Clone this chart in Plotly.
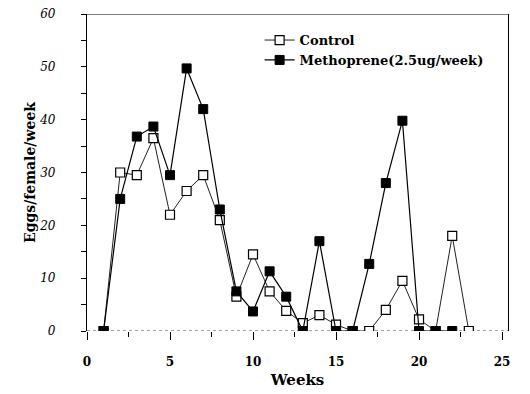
import plotly.graph_objects as go

weeks_control = [1, 2, 3, 4, 5, 6, 7, 8, 9, 10, 11, 12, 13, 14, 15, 16, 17, 18, 19, 20, 21, 22, 23]
control = [0, 30, 29.5, 36.5, 22, 26.5, 29.5, 21, 6.5, 14.5, 7.5, 3.8, 1.5, 3, 1.2, 0, 0, 4, 9.5, 2.2, 0, 18, 0]

weeks_metho = [1, 2, 3, 4, 5, 6, 7, 8, 9, 10, 11, 12, 13, 14, 15, 16, 17, 18, 19, 20, 21, 22]
methoprene = [0, 25, 36.8, 38.7, 29.5, 49.7, 42, 23, 7.5, 3.7, 11.3, 6.5, 0, 17, 0, 0, 12.7, 28, 39.8, 0, 0, 0]

x_ticks = [0, 5, 10, 15, 20, 25]
y_ticks = [0, 10, 20, 30, 40, 50, 60]

SERIF = "DejaVu Serif"

fig = go.Figure()
fig.add_trace(go.Scatter(
    x=weeks_control, y=control, mode="lines+markers", name="Control",
    line=dict(color="#222222", width=1),
    marker=dict(symbol="square", size=9, color="white", line=dict(color="black", width=1.2)),
))
fig.add_trace(go.Scatter(
    x=weeks_metho, y=methoprene, mode="lines+markers", name="Methoprene(2.5ug/week)",
    line=dict(color="black", width=1.2),
    marker=dict(symbol="square", size=9, color="black", line=dict(color="black", width=1)),
))

fig.update_layout(
    width=530, height=394,
    margin=dict(l=87, r=22, t=14, b=63),
    paper_bgcolor="white", plot_bgcolor="white",
    font=dict(family=SERIF, color="black"),
    showlegend=True,
    legend=dict(
        x=0.41, y=0.965, xanchor="left", yanchor="top",
        bgcolor="rgba(0,0,0,0)",
        font=dict(family=SERIF, size=13, color="black", weight="bold"),
        itemwidth=30, tracegroupgap=0,
    ),
    xaxis=dict(
        range=[0, 25.36], tickvals=x_ticks, ticktext=[str(v) for v in x_ticks],
        showgrid=False, zeroline=False, showline=False, automargin=False,
        ticks="outside", ticklen=8, tickcolor="black", tickwidth=1,
        minor=dict(dtick=2.5, tick0=0, ticks="outside", ticklen=5, tickcolor="black", showgrid=False),
        tickfont=dict(family=SERIF, size=12, weight="bold"),
        ticklabelstandoff=12,
        title=dict(text="Weeks", font=dict(family=SERIF, size=15, weight="bold"), standoff=6),
    ),
    yaxis=dict(
        range=[0, 60], tickvals=y_ticks, ticktext=[str(v) for v in y_ticks],
        showgrid=False, zeroline=False, showline=True, linecolor="black", linewidth=1.2, mirror=True,
        automargin=False,
        ticks="outside", ticklen=5, tickcolor="black",
        minor=dict(dtick=5, tick0=0, ticks="outside", ticklen=5, tickcolor="black", showgrid=False),
        tickfont=dict(family=SERIF, size=12, style="italic"),
        ticklabelstandoff=23,
        title=dict(text="Eggs/female/week", font=dict(family=SERIF, size=14, weight="bold"), standoff=0),
    ),
    shapes=[
        dict(type="line", xref="paper", yref="y", x0=0, x1=1, y0=60, y1=60,
             line=dict(color="black", width=1)),
        dict(type="line", xref="paper", yref="y", x0=0, x1=1, y0=0, y1=0,
             line=dict(color="#444444", width=1, dash="dot"), layer="below"),
    ],
)

fig.write_html("out.html", config={"displayModeBar": False},
               post_script="document.body.style.margin='0';")
